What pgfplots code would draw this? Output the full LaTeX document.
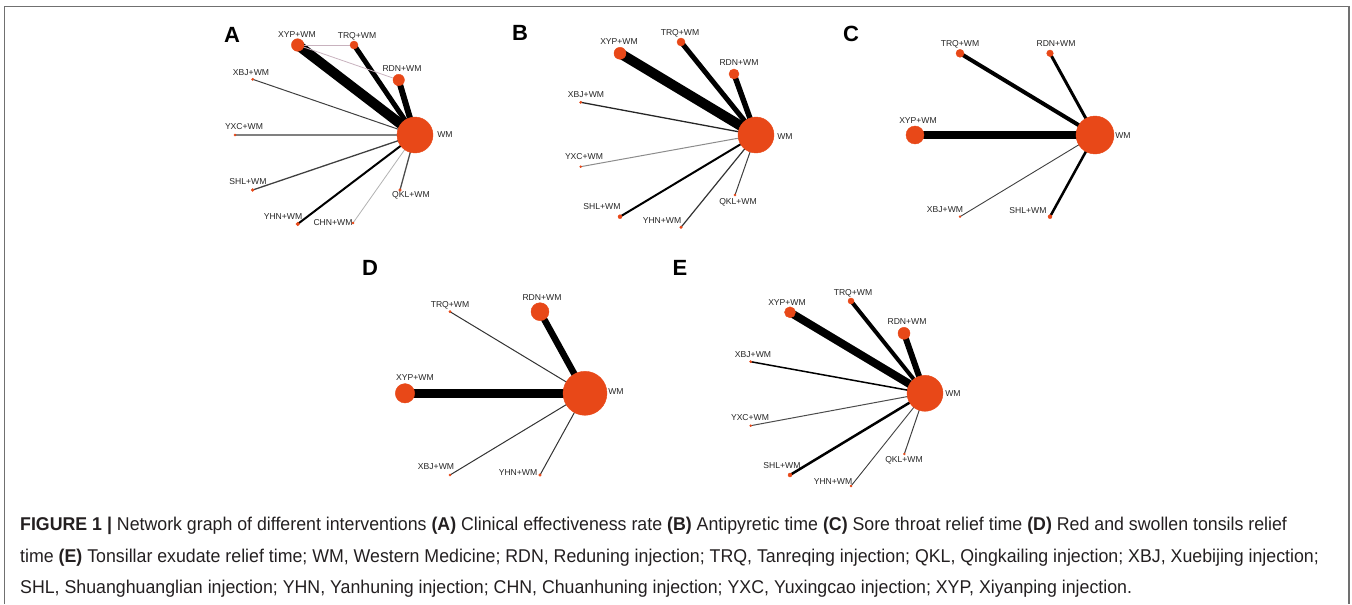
\documentclass[border=0pt]{standalone}
\usepackage{pgfplots}
\pgfplotsset{compat=1.18}
\usepackage{graphicx}
\usepackage{fontspec}
\setmainfont{Liberation Sans}
\definecolor{nodeor}{RGB}{232,72,24}
\definecolor{pinkg}{RGB}{200,178,190}
\definecolor{capc}{RGB}{35,31,32}
\definecolor{framec}{RGB}{112,112,112}
\newcommand\lbl{\fontsize{8.6}{10}\selectfont}
\newcommand\capfont{\fontsize{18.5}{22}\selectfont}
\newcommand\ed[6]{\addplot[mark=none, line width=#5pt, color=#6] coordinates {(#1,#2) (#3,#4)};}
\newcommand\nd[3]{\addplot[only marks, mark=*, mark size=#3pt, color=nodeor, mark options={draw=none, fill=nodeor}] coordinates {(#1,#2)};}
\begin{document}
\begin{tikzpicture}
\begin{axis}[scale only axis, width=1352pt, height=604pt,
  xmin=0, xmax=1352, ymin=0, ymax=604, y dir=reverse,
  hide axis, clip=false]
\path (axis cs:0,0) rectangle (axis cs:1352,604);
% frame
\draw[framec, line width=1.5pt] (axis cs:4.5,604) -- (axis cs:4.5,6.5) -- (axis cs:1349,6.5) -- (axis cs:1349,604);
% ---------- Panel A ----------
\ed{415}{135}{297.7}{45}{10}{black}
\ed{415}{135}{354}{45}{5}{black}
\ed{415}{135}{398.7}{80}{6}{black}
\ed{415}{135}{252.7}{79.3}{1}{black!75}
\ed{415}{135}{235}{135}{2}{black!50}
\ed{415}{135}{252.7}{190}{1.3}{black!75}
\ed{415}{135}{297.7}{224}{2}{black}
\ed{415}{135}{353}{223}{0.8}{black!30}
\ed{415}{135}{400}{190}{1.3}{black!70}
\ed{297.7}{45}{354}{45}{0.8}{pinkg}
\ed{297.7}{45}{398.7}{80}{0.8}{pinkg}
\nd{415}{135}{18}
\nd{297.7}{45}{6.3}
\nd{354}{45}{4}
\nd{398.7}{80}{5.7}
\nd{252.7}{79.3}{1.2}
\nd{235}{135}{1.2}
\nd{252.7}{190}{1.5}
\nd{297.7}{224}{1.8}
\nd{353}{223}{1}
\nd{400}{190}{1.3}
% ---------- Panel B ----------
\ed{756}{135}{620}{53.3}{10}{black}
\ed{756}{135}{681}{42}{5}{black}
\ed{756}{135}{734}{74}{5.5}{black}
\ed{756}{135}{580.7}{102.3}{1.3}{black!85}
\ed{756}{135}{580.7}{166.7}{1}{black!45}
\ed{756}{135}{620}{216.7}{2}{black}
\ed{756}{135}{681}{227.3}{1.2}{black!80}
\ed{756}{135}{735}{195}{1}{black!75}
\nd{756}{135}{18}
\nd{620}{53.3}{6}
\nd{681}{42}{4}
\nd{734}{74}{5}
\nd{580.7}{102.3}{1.2}
\nd{580.7}{166.7}{1}
\nd{620}{216.7}{2}
\nd{681}{227.3}{1.3}
\nd{735}{195}{1.2}
% ---------- Panel C ----------
\ed{1095}{135}{960}{53.3}{4}{black}
\ed{1095}{135}{1050}{53.3}{3}{black}
\ed{1095}{135}{915}{135}{8}{black}
\ed{1095}{135}{960}{216.7}{0.9}{black!75}
\ed{1095}{135}{1050}{216.7}{2.5}{black}
\nd{1095}{135}{19}
\nd{960}{53.3}{4}
\nd{1050}{53.3}{3.3}
\nd{915}{135}{9}
\nd{960}{216.7}{1}
\nd{1050}{216.7}{2}
% ---------- Panel D ----------
\ed{585}{393.3}{540}{311.7}{6.5}{black}
\ed{585}{393.3}{450}{311.7}{1}{black!80}
\ed{585}{393.3}{405}{393.3}{9}{black}
\ed{585}{393.3}{450}{475}{1}{black!80}
\ed{585}{393.3}{540}{475}{1}{black!80}
\nd{585}{393.3}{22}
\nd{540}{311.7}{9}
\nd{450}{311.7}{1.2}
\nd{405}{393.3}{9.7}
\nd{450}{475}{1.2}
\nd{540}{475}{1.3}
% ---------- Panel E ----------
\ed{925}{393.3}{790}{312.3}{8}{black}
\ed{925}{393.3}{851}{301}{4}{black}
\ed{925}{393.3}{904}{333.3}{6}{black}
\ed{925}{393.3}{750.7}{361.7}{1.5}{black}
\ed{925}{393.3}{750.7}{425.7}{1}{black!70}
\ed{925}{393.3}{790}{475}{2.5}{black}
\ed{925}{393.3}{851}{486}{0.9}{black!75}
\ed{925}{393.3}{904.3}{454}{1}{black!75}
\nd{925}{393.3}{18}
\nd{790}{312.3}{5.5}
\nd{851}{301}{3}
\nd{904}{333.3}{6}
\nd{750.7}{361.7}{1.2}
\nd{750.7}{425.7}{1}
\nd{790}{475}{2}
\nd{851}{486}{1}
\nd{904.3}{454}{1}
% ---------- labels ----------
\begin{scope}[every node/.style={font=\lbl, inner sep=0pt, text=black!85}]
% A
\node at (axis cs:297,35) {XYP+WM};
\node at (axis cs:357,36) {TRQ+WM};
\node at (axis cs:402,69) {RDN+WM};
\node at (axis cs:251,73) {XBJ+WM};
\node at (axis cs:244,127) {YXC+WM};
\node at (axis cs:248,182) {SHL+WM};
\node at (axis cs:283,217) {YHN+WM};
\node at (axis cs:333,223) {CHN+WM};
\node at (axis cs:411,195) {QKL+WM};
\node at (axis cs:445,135) {WM};
% B
\node at (axis cs:619,42) {XYP+WM};
\node at (axis cs:680,33) {TRQ+WM};
\node at (axis cs:739,63) {RDN+WM};
\node at (axis cs:586,95) {XBJ+WM};
\node at (axis cs:584,157) {YXC+WM};
\node at (axis cs:602,207) {SHL+WM};
\node at (axis cs:662,221) {YHN+WM};
\node at (axis cs:738,202) {QKL+WM};
\node at (axis cs:785,137) {WM};
% C
\node at (axis cs:960,44) {TRQ+WM};
\node at (axis cs:1056,44) {RDN+WM};
\node at (axis cs:918,121) {XYP+WM};
\node at (axis cs:945,210) {XBJ+WM};
\node at (axis cs:1028,211) {SHL+WM};
\node at (axis cs:1123,136) {WM};
% D
\node at (axis cs:542,298) {RDN+WM};
\node at (axis cs:450,305) {TRQ+WM};
\node at (axis cs:415,378) {XYP+WM};
\node at (axis cs:436,467) {XBJ+WM};
\node at (axis cs:518,473) {YHN+WM};
\node at (axis cs:616,392) {WM};
% E
\node at (axis cs:787,303) {XYP+WM};
\node at (axis cs:853,293) {TRQ+WM};
\node at (axis cs:907,322) {RDN+WM};
\node at (axis cs:753,355) {XBJ+WM};
\node at (axis cs:750,418) {YXC+WM};
\node at (axis cs:782,466) {SHL+WM};
\node at (axis cs:833,482) {YHN+WM};
\node at (axis cs:904,460) {QKL+WM};
\node at (axis cs:953,394) {WM};
\end{scope}
% panel letters
\begin{scope}[every node/.style={font=\fontsize{22}{24}\selectfont\bfseries, inner sep=0pt}]
\node at (axis cs:232,35) {A};
\node at (axis cs:520,33) {B};
\node at (axis cs:851,34) {C};
\node at (axis cs:370,268) {D};
\node at (axis cs:680,268) {E};
\end{scope}
% caption
\begin{scope}[every node/.style={font=\capfont, inner sep=0pt, anchor=base west, text=capc}]
\node at (axis cs:20,530) {\scalebox{0.96}[1]{\textbf{FIGURE 1 |} Network graph of different interventions \textbf{(A)} Clinical effectiveness rate \textbf{(B)} Antipyretic time \textbf{(C)} Sore throat relief time \textbf{(D)} Red and swollen tonsils relief}};
\node at (axis cs:20,562) {\scalebox{0.96}[1]{time \textbf{(E)} Tonsillar exudate relief time; WM, Western Medicine; RDN, Reduning injection; TRQ, Tanreqing injection; QKL, Qingkailing injection; XBJ, Xuebijing injection;}};
\node at (axis cs:20,593) {\scalebox{0.96}[1]{SHL, Shuanghuanglian injection; YHN, Yanhuning injection; CHN, Chuanhuning injection; YXC, Yuxingcao injection; XYP, Xiyanping injection.}};
\end{scope}
\end{axis}
\end{tikzpicture}
\end{document}
